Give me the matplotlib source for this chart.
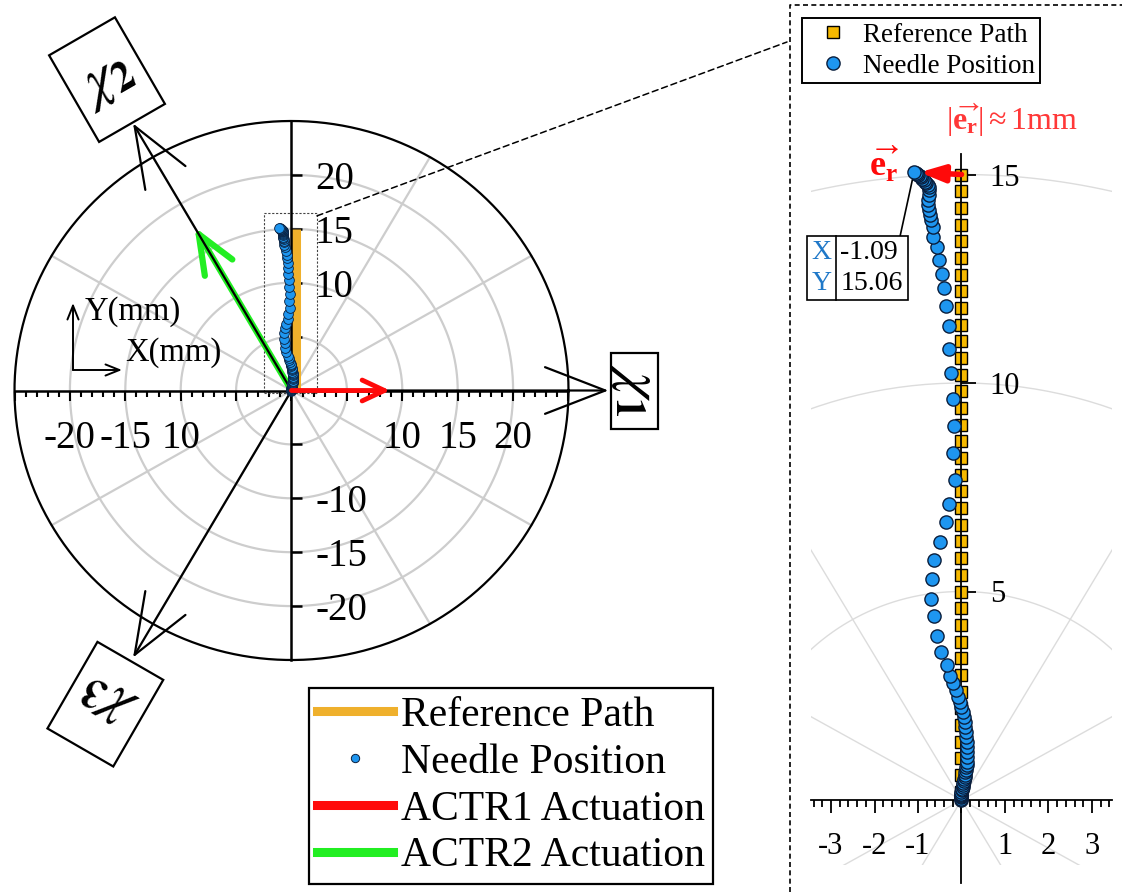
import numpy as np
import matplotlib
matplotlib.use("Agg")
import matplotlib.pyplot as plt
from matplotlib.lines import Line2D
from matplotlib.patches import Rectangle, ConnectionPatch
from matplotlib.transforms import Affine2D, ScaledTranslation, offset_copy
from matplotlib.ticker import FixedLocator

plt.rcParams['font.family'] = ['Liberation Serif', 'DejaVu Serif']
plt.rcParams['mathtext.fontset'] = 'custom'
plt.rcParams['mathtext.rm'] = 'Liberation Serif'
plt.rcParams['mathtext.it'] = 'Liberation Serif:italic'
plt.rcParams['mathtext.bf'] = 'Liberation Serif:bold'
plt.rcParams['axes.unicode_minus'] = False

# ---------------- data (mm) ----------------
needle_x = [-0.02, -0.02, -0.01, -0.02, -0.01, 0.00, 0.00, 0.01, 0.02, 0.03,
            0.03, 0.04, 0.05, 0.06, 0.07, 0.08, 0.09, 0.10, 0.11, 0.12,
            0.12, 0.12, 0.12, 0.12, 0.12, 0.11, 0.10, 0.09, 0.07, 0.05,
            0.03, 0.00, -0.03, -0.07, -0.13, -0.19, -0.26, -0.34, -0.46, -0.57,
            -0.63, -0.69, -0.67, -0.63, -0.49, -0.36, -0.28, -0.16, -0.20, -0.17,
            -0.19, -0.23, -0.29, -0.29, -0.36, -0.40, -0.44, -0.51, -0.57, -0.65,
            -0.65, -0.69, -0.72, -0.74, -0.76, -0.76, -0.74, -0.74, -0.75, -0.78,
            -0.81, -0.84, -0.87, -0.90, -0.93, -0.96, -0.99, -1.02, -1.05, -1.09]
needle_y = [0.00, 0.03, 0.06, 0.09, 0.12, 0.15, 0.19, 0.23, 0.27, 0.31,
            0.35, 0.40, 0.45, 0.50, 0.55, 0.60, 0.66, 0.72, 0.78, 0.85,
            0.92, 1.04, 1.16, 1.28, 1.40, 1.52, 1.64, 1.76, 1.88, 2.00,
            2.12, 2.24, 2.36, 2.48, 2.64, 2.80, 2.97, 3.24, 3.54, 3.94,
            4.42, 4.81, 5.29, 5.76, 6.19, 6.67, 7.11, 7.67, 8.31, 8.98,
            9.61, 10.25, 10.82, 11.37, 11.85, 12.27, 12.61, 12.95, 13.27, 13.51,
            13.75, 13.91, 14.03, 14.15, 14.27, 14.39, 14.51, 14.63, 14.70, 14.75,
            14.79, 14.83, 14.86, 14.90, 14.93, 14.96, 14.99, 15.01, 15.03, 15.06]
ref_y = [0.2, 0.6, 1.0, 1.4, 1.8, 2.2, 2.6, 3.0, 3.4, 3.8, 4.2, 4.6, 5.0,
         5.4, 5.8, 6.2, 6.6, 7.0, 7.4, 7.8, 8.2, 8.6, 9.0, 9.4, 9.8, 10.2,
         10.6, 11.0, 11.4, 11.8, 12.2, 12.6, 13.0, 13.4, 13.8, 14.2, 14.6, 15.0]
ref_x = [0.0] * len(ref_y)

actr1_len = 8.9          # ACTR1 actuation along chi1
actr2_len = 17.5         # ACTR2 actuation along chi2
axis_len = 28.6
axis_angles = [0, 120, 240]
axis_names = [r'$\chi_\mathbf{1}$', r'$\chi_\mathbf{2}$', r'$\chi_\mathbf{3}$']
label_dist = [31.0, 33.3, 33.6]

grid_radii_left = [5, 10, 15, 20]
grid_radii_right = [5, 10, 15, 20]
outer_radius = 25
spoke_angles = [30, 60, 120, 150, 210, 240, 300, 330]

left_xticks = [-25, -20, -15, -10, -5, 0, 5, 10, 15, 20, 25]
left_xlabels = ['', '-20', '-15', '10', '', '', '', '10', '15', '20', '']
left_yticks = [-20, -15, -10, -5, 5, 10, 15, 20]
left_ylabels = ['-20', '-15', '-10', '', '', '10', '15', '20']
right_xticks = [-3, -2, -1, 0, 1, 2, 3]
right_xlabels = ['-3', '-2', '-1', '', '1', '2', '3']
right_yticks = [5, 10, 15]
right_ylabels = ['5', '10', '15']

legend_left = ['Reference Path', 'Needle Position', 'ACTR1 Actuation', 'ACTR2 Actuation']
legend_right = ['Reference Path', 'Needle Position']

c_blue = '#1E96F0'
c_ref = '#F5B800'
c_ref_bar = '#EFB02C'
c_red = '#FF0A0A'
c_green = '#22EE22'
c_grid = '#CDCDCD'
c_grid2 = '#DCDCDC'
c_txt_red = '#FF3838'
c_tip_blue = '#1F78C8'
c_edge = '#0A1E3C'

W, H, DPI = 1122, 892, 100
fig = plt.figure(figsize=(W / DPI, H / DPI), dpi=DPI)


def px_axes(x0, x1, y0, y1):
    """Axes placed by pixel box (y measured from the top edge)."""
    return fig.add_axes([x0 / W, 1 - y1 / H, (x1 - x0) / W, (y1 - y0) / H])


# ======================= left: full workspace =======================
cx, cy, sx, sy = 291.5, 390.5, 11.08, 10.78
axL = px_axes(0, 780, 0, 892)
axL.set_xlim(-cx / sx, (780 - cx) / sx)
axL.set_ylim((cy - 892) / sy, cy / sy)
axL.patch.set_visible(False)

t = np.linspace(0, 2 * np.pi, 400)
for r in grid_radii_left:
    axL.plot(r * np.cos(t), r * np.sin(t), color=c_grid, lw=1.6, zorder=1)
for a in spoke_angles:
    ar = np.deg2rad(a)
    axL.plot([0, outer_radius * np.cos(ar)], [0, outer_radius * np.sin(ar)],
             color=c_grid, lw=1.6, zorder=1)
axL.plot(outer_radius * np.cos(t), outer_radius * np.sin(t), color='k', lw=1.6, zorder=3)

for s in ['top', 'left']:
    axL.spines[s].set_visible(False)
axL.spines['bottom'].set_position(('data', 0))
axL.spines['right'].set_position(('data', 0))
axL.spines['bottom'].set_bounds(-outer_radius, outer_radius)
axL.spines['right'].set_bounds(-outer_radius, outer_radius)
for s in ['bottom', 'right']:
    axL.spines[s].set_linewidth(1.8)
    axL.spines[s].set_zorder(4)
axL.yaxis.set_ticks_position('right')
axL.xaxis.set_ticks_position('bottom')
axL.xaxis.set_major_locator(FixedLocator(left_xticks))
axL.set_xticklabels(left_xlabels)
axL.xaxis.set_minor_locator(FixedLocator(list(range(-25, 26))))
axL.yaxis.set_major_locator(FixedLocator(left_yticks))
axL.set_yticklabels(left_ylabels)
axL.tick_params(axis='x', which='major', direction='out', length=7.2, width=1.5,
                labelsize=28, pad=14)
axL.tick_params(axis='x', which='minor', direction='out', length=4.3, width=1.5)
axL.tick_params(axis='y', which='major', direction='out', length=8, width=1.8,
                labelsize=28, pad=9, labelright=True, labelleft=False)

# reference path (drawn a few pixels right of the Y axis)
shift = offset_copy(axL.transData, fig=fig, x=5, y=0, units='dots')
axL.plot(ref_x, [0.0] + ref_y[1:], color=c_ref_bar, lw=6.5, solid_capstyle='butt',
         transform=shift, zorder=2)

# needle position
axL.plot(needle_x, needle_y, ls='none', marker='o', ms=7, mfc=c_blue, mec=c_edge,
         mew=0.6, zorder=6)

# chi axes
for ang, name, d in zip(axis_angles, axis_names, label_dist):
    ar = np.deg2rad(ang)
    tip = (axis_len * np.cos(ar), axis_len * np.sin(ar))
    axL.annotate('', xy=tip, xytext=(0, 0),
                 arrowprops=dict(arrowstyle='->,head_length=3.1,head_width=1.2',
                                 mutation_scale=14, lw=1.6, color='k',
                                 shrinkA=0, shrinkB=0), zorder=5)
    bx, by = d * np.cos(ar), d * np.sin(ar)
    rot = ang - 90
    w_in, h_in = (0.76, 0.47) if ang == 0 else (0.76, 1.00)
    tr = (Affine2D().rotate_deg(rot) + fig.dpi_scale_trans
          + ScaledTranslation(bx, by, axL.transData))
    axL.add_patch(Rectangle((-w_in / 2, -h_in / 2), w_in, h_in, transform=tr,
                            fill=False, ec='k', lw=1.6, clip_on=False))
    axL.text(bx, by, name, rotation=rot, rotation_mode='anchor', ha='center',
             va='center', fontsize=42, math_fontfamily='stix')

# actuation vectors
a1 = np.deg2rad(axis_angles[0])
axL.annotate('', xy=(actr1_len * np.cos(a1), actr1_len * np.sin(a1)), xytext=(0, 0),
             arrowprops=dict(arrowstyle='->,head_length=1.6,head_width=0.75',
                             mutation_scale=10, lw=3.5, color=c_red,
                             shrinkA=0, shrinkB=0), zorder=7)
a2 = np.deg2rad(axis_angles[1])
axL.annotate('', xy=(actr2_len * np.cos(a2), actr2_len * np.sin(a2)), xytext=(0, 0),
             arrowprops=dict(arrowstyle='->,head_length=2.8,head_width=1.15',
                             mutation_scale=10, lw=4.5, color=c_green,
                             shrinkA=0, shrinkB=0), zorder=4.5)

# frame-of-reference hint
ox, oy = (73 - cx) / sx, (cy - 370) / sy
axL.annotate('', xy=(ox, (cy - 303) / sy), xytext=(ox, oy),
             arrowprops=dict(arrowstyle='->,head_length=1.0,head_width=0.4',
                             mutation_scale=10, lw=1.4, color='k', shrinkA=0, shrinkB=0))
axL.annotate('', xy=((122 - cx) / sx, oy), xytext=(ox, oy),
             arrowprops=dict(arrowstyle='->,head_length=1.0,head_width=0.4',
                             mutation_scale=10, lw=1.4, color='k', shrinkA=0, shrinkB=0))
axL.text((85 - cx) / sx, (cy - 312) / sy, 'Y(mm)', fontsize=23.5, ha='left', va='center')
axL.text((125 - cx) / sx, (cy - 353) / sy, 'X(mm)', fontsize=23.5, ha='left', va='center')

# zoom window
zx0, zx1, zy0, zy1 = -2.5, 2.3, -0.2, 16.5
axL.add_patch(Rectangle((zx0, zy0), zx1 - zx0, zy1 - zy0, fill=False, ec='#444444',
                        lw=0.8, ls=(0, (2, 1.5)), zorder=2))

hL = [Line2D([], [], color=c_ref_bar, lw=6.5),
      Line2D([], [], ls='none', marker='o', ms=6, mfc=c_blue, mec=c_edge, mew=0.7),
      Line2D([], [], color=c_red, lw=6.5),
      Line2D([], [], color=c_green, lw=6.5)]
legL = axL.legend(hL, legend_left, loc='upper left', bbox_to_anchor=(309 / W, 1 - 688 / H),
                  bbox_transform=fig.transFigure, fontsize=30, frameon=True,
                  fancybox=False, edgecolor='k', framealpha=1, borderaxespad=0,
                  handlelength=1.82, handletextpad=0.19, labelspacing=0.2,
                  borderpad=0.2)
legL.get_frame().set_linewidth(1.6)

# ======================= right: zoomed view =======================
rcx, rcy, rsx, rsy = 961.5, 800, 43.5, 41.7
axR = px_axes(811, 1112, 60, 865)
axR.set_xlim((811 - rcx) / rsx, (1112 - rcx) / rsx)
axR.set_ylim((rcy - 865) / rsy, (rcy - 60) / rsy)
axR.patch.set_visible(False)

for r in grid_radii_right:
    axR.plot(r * np.cos(t), r * np.sin(t), color=c_grid2, lw=1.0, zorder=1)
for a in spoke_angles:
    ar = np.deg2rad(a)
    axR.plot([0, 20 * np.cos(ar)], [0, 20 * np.sin(ar)], color=c_grid2, lw=1.0, zorder=1)

for s in ['top', 'left']:
    axR.spines[s].set_visible(False)
axR.spines['bottom'].set_position(('data', 0))
axR.spines['right'].set_position(('data', 0))
axR.spines['right'].set_bounds(-2.0, 15.5)
for s in ['bottom', 'right']:
    axR.spines[s].set_linewidth(1.3)
    axR.spines[s].set_zorder(4)
axR.yaxis.set_ticks_position('right')
axR.xaxis.set_ticks_position('bottom')
axR.xaxis.set_major_locator(FixedLocator(right_xticks))
axR.set_xticklabels(right_xlabels)
axR.xaxis.set_minor_locator(FixedLocator([round(-3.4 + 0.2 * i, 1) for i in range(35)]))
axR.yaxis.set_major_locator(FixedLocator(right_yticks))
axR.set_yticklabels(right_ylabels)
axR.tick_params(axis='x', which='major', direction='out', length=9.4, width=1.3,
                labelsize=22, pad=13.5)
axR.tick_params(axis='x', which='minor', direction='out', length=5, width=1.3)
axR.tick_params(axis='y', which='major', direction='out', length=10.8, width=1.3,
                labelsize=22, pad=9.5, labelright=True, labelleft=False)

axR.plot(ref_x, ref_y, ls='none', marker='s', ms=8.5, mfc=c_ref, mec='k', mew=1.0,
         zorder=3)
axR.plot(needle_x, needle_y, ls='none', marker='o', ms=9.5, mfc=c_blue, mec=c_edge,
         mew=1.0, zorder=6, clip_on=False)

# error vector between reference end point and final needle position
axR.annotate('', xy=(needle_x[-1], needle_y[-1]), xytext=(ref_x[-1], ref_y[-1]),
             arrowprops=dict(arrowstyle='-|>,head_length=0.8,head_width=0.28',
                             mutation_scale=18, lw=4, color=c_red,
                             shrinkA=0, shrinkB=4), zorder=7, annotation_clip=False)
axR.text(-1.78, 15.23, r'$\overrightarrow{\mathbf{e}_\mathbf{r}}$', color=c_red,
         fontsize=26, ha='center', va='center', zorder=8, clip_on=False)
axR.text(-0.35, 16.3, r'$|\overrightarrow{\mathbf{e}_\mathbf{r}}|\approx$1mm',
         color=c_txt_red, fontsize=23, ha='left', va='center', clip_on=False)

# data tip
bx0, bx1, by0, by1, bdiv = -3.55, -1.23, 11.99, 13.53, -2.885
axR.add_patch(Rectangle((bx0, by0), bx1 - bx0, by1 - by0, fc='white', ec='k', lw=1.2,
                        clip_on=False, zorder=8))
axR.plot([bdiv, bdiv], [by0, by1], color='k', lw=1.2, clip_on=False, zorder=9)
axR.plot([-1.41, needle_x[-1]], [by1, needle_y[-1]], color='k', lw=1.2, zorder=5,
         clip_on=False)
ym = (by0 + by1) / 2
axR.text((bx0 + bdiv) / 2, ym + 0.38, 'X', color=c_tip_blue, fontsize=20, ha='center',
         va='center', zorder=10, clip_on=False)
axR.text((bx0 + bdiv) / 2, ym - 0.38, 'Y', color=c_tip_blue, fontsize=20, ha='center',
         va='center', zorder=10, clip_on=False)
axR.text(bdiv + 0.1, ym + 0.38, f'{needle_x[-1]:.2f}', fontsize=20, ha='left',
         va='center', zorder=10, clip_on=False)
axR.text(bdiv + 0.1, ym - 0.38, f'{needle_y[-1]:.2f}', fontsize=20, ha='left',
         va='center', zorder=10, clip_on=False)

hR = [Line2D([], [], ls='none', marker='s', ms=8.5, mfc=c_ref, mec='k', mew=1.0),
      Line2D([], [], ls='none', marker='o', ms=9.5, mfc=c_blue, mec=c_edge, mew=1.0)]
legR = axR.legend(hR, legend_right, loc='upper left', bbox_to_anchor=(802 / W, 1 - 18 / H),
                  bbox_transform=fig.transFigure, fontsize=19.5, frameon=True,
                  fancybox=False, edgecolor='k', framealpha=1, borderaxespad=0,
                  handlelength=1.95, handletextpad=0.13, labelspacing=0.23,
                  borderpad=0.17)
legR.get_frame().set_linewidth(1.4)

# panel frame and link to the zoom window
fig.add_artist(Line2D([790 / W, 790 / W, 1.0], [0.0, 1 - 5 / H, 1 - 5 / H],
                      transform=fig.transFigure, color='k', lw=1.2, ls=(0, (3, 2))))
fig.add_artist(ConnectionPatch(xyA=(zx1, 16.2), coordsA=axL.transData,
                               xyB=(787 / W, 1 - 42 / H), coordsB=fig.transFigure,
                               color='k', lw=1.1, ls=(0, (4, 2.5))))

fig.savefig('out.png', dpi=DPI)
